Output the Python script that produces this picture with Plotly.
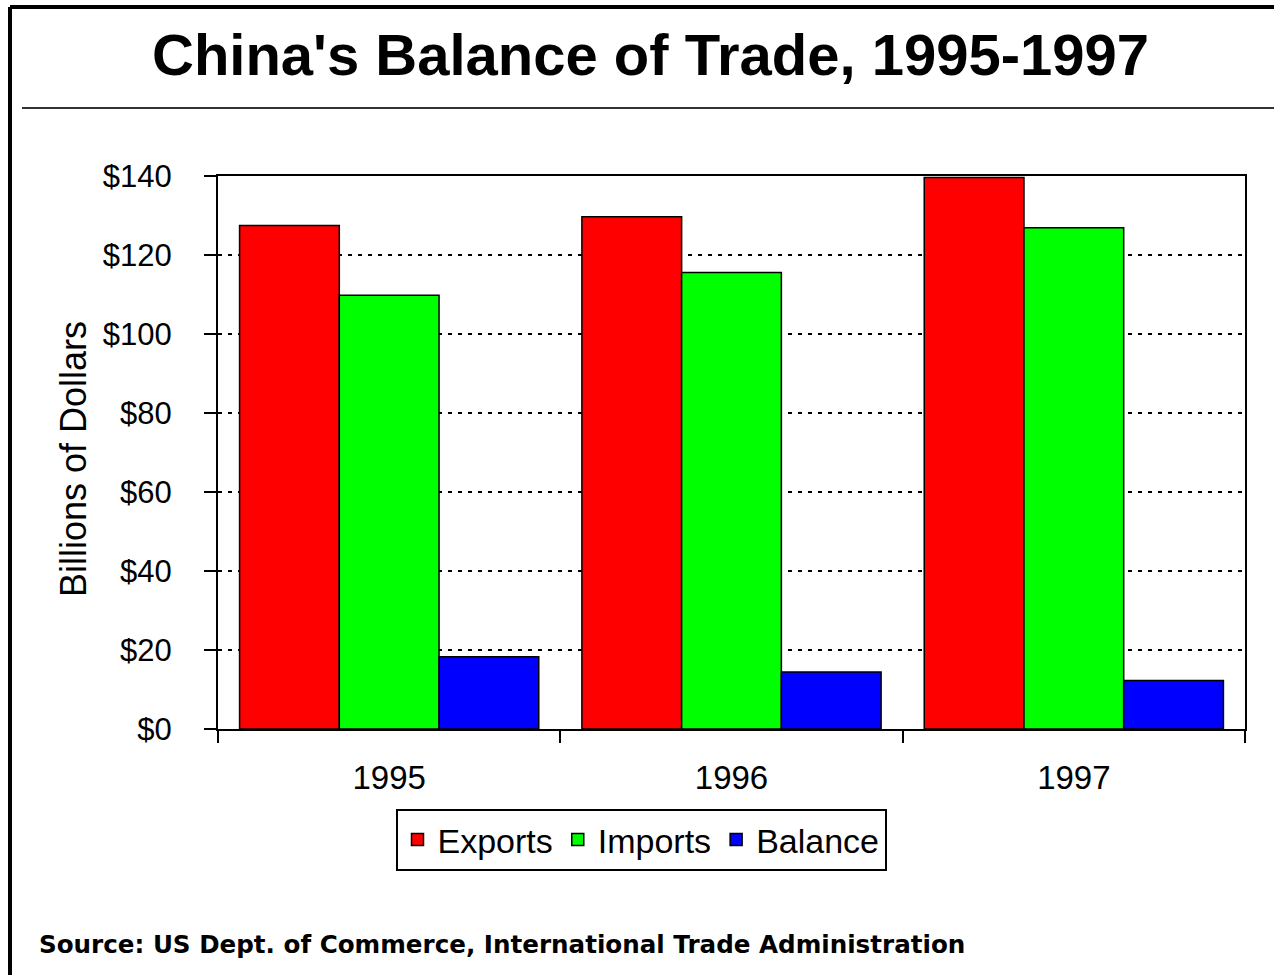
import plotly.graph_objects as go

# ---- data ----
years = ["1995", "1996", "1997"]
exports = [127.5, 129.7, 139.6]
imports = [109.8, 115.6, 126.9]
balance = [18.3, 14.4, 12.3]
y_ticks = [0, 20, 40, 60, 80, 100, 120, 140]
y_tick_labels = ["$0", "$20", "$40", "$60", "$80", "$100", "$120", "$140"]

W, H = 1274, 975
L, R, T, B = 218, 1245, 176, 729  # plot area in pixels


def px2x(px):
    return (px - L) / (R - L)


def px2y(py):
    return (B - py) / (B - T)


FONT = "Liberation Sans, Arial, sans-serif"

fig = go.Figure()
for name, vals, col in [("Exports", exports, "#FF0000"),
                        ("Imports", imports, "#00FF00"),
                        ("Balance", balance, "#0000FF")]:
    fig.add_trace(go.Bar(x=years, y=vals, name=name,
                         marker=dict(color=col, line=dict(color="black", width=1.5))))

fig.update_layout(
    width=W, height=H,
    margin=dict(l=L, r=W - R, t=T, b=H - B),
    paper_bgcolor="white", plot_bgcolor="white",
    barmode="group", bargap=0.126, bargroupgap=0,
    font=dict(family=FONT, color="black"),
    showlegend=True,
    legend=dict(orientation="h", xref="container", yref="container",
                x=641 / W, y=1 - 840 / H, xanchor="center", yanchor="middle",
                bordercolor="black", borderwidth=2, bgcolor="white",
                font=dict(size=34, family=FONT, color="black"),
                traceorder="normal", itemwidth=30),
    xaxis=dict(type="category", tickson="boundaries", ticks="outside", ticklen=12,
               tickwidth=2, tickcolor="black", showline=True, linecolor="black",
               linewidth=2, mirror=True, showgrid=False,
               tickfont=dict(size=33, family=FONT, color="black"),
               ticklabelstandoff=18),
    yaxis=dict(range=[0, 140], tickvals=y_ticks, ticktext=y_tick_labels,
               ticks="outside", ticklen=12, tickwidth=2, tickcolor="black",
               showline=True, linecolor="black", linewidth=2, mirror=True,
               showgrid=True, gridcolor="black", gridwidth=2, griddash="4px,6px",
               zeroline=False,
               tickfont=dict(size=31, family=FONT, color="black"),
               ticklabelstandoff=26),
    xaxis2=dict(overlaying="x", range=[-0.5, 2.5], tickvals=[-0.5, 0.5, 1.5, 2.5],
                ticks="inside", ticklen=9, tickwidth=2, tickcolor="black",
                showticklabels=False, showgrid=False, zeroline=False, showline=False),
    yaxis2=dict(overlaying="y", side="left", range=[0, 140], tickvals=y_ticks,
                ticks="inside", ticklen=11, tickwidth=2, tickcolor="black",
                showticklabels=False, showgrid=False, zeroline=False, showline=False),
)

# outer frame (left and top) and title rule
fig.add_shape(type="line", xref="paper", yref="paper",
              x0=px2x(10), x1=px2x(10), y0=px2y(7), y1=px2y(H + 10),
              line=dict(color="black", width=4))
fig.add_shape(type="line", xref="paper", yref="paper",
              x0=px2x(10), x1=px2x(W + 10), y0=px2y(7), y1=px2y(7),
              line=dict(color="black", width=4))
fig.add_shape(type="line", xref="paper", yref="paper",
              x0=px2x(22), x1=px2x(W + 10), y0=px2y(108), y1=px2y(108),
              line=dict(color="#333333", width=2))

fig.add_annotation(text="<b>China's Balance of Trade, 1995-1997</b>",
                   xref="paper", yref="paper", x=px2x(650), y=px2y(54),
                   xanchor="center", yanchor="middle", showarrow=False,
                   font=dict(size=58, family=FONT, color="black"))
fig.add_annotation(text="Billions of Dollars", textangle=-90,
                   xref="paper", yref="paper", x=px2x(74), y=px2y(459),
                   xanchor="center", yanchor="middle", showarrow=False,
                   font=dict(size=36, family=FONT, color="black"))
fig.add_annotation(text="<b>Source: US Dept. of Commerce, International Trade Administration</b>",
                   xref="paper", yref="paper", x=px2x(37), y=px2y(944),
                   xanchor="left", yanchor="middle", showarrow=False,
                   font=dict(size=24.6, family="DejaVu Sans, sans-serif", color="black"))

fig.write_html("out.html")
